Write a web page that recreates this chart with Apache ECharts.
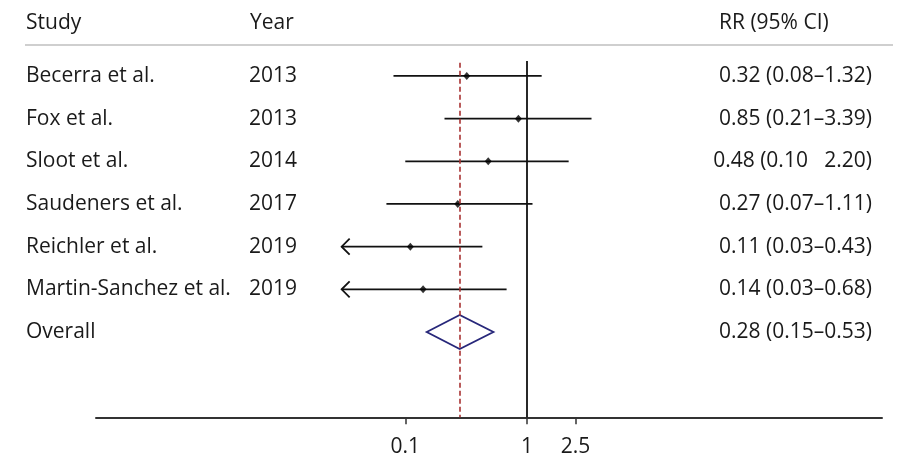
<!DOCTYPE html>
<html>
<head>
<meta charset="utf-8">
<script src="https://cdn.jsdelivr.net/npm/echarts@6/dist/echarts.min.js"></script>
<style>html,body{margin:0;padding:0;background:#fff}#c{width:900px;height:464px}</style>
</head>
<body>
<div id="c"></div>
<script>
// ---- data ----
const studies = ['Becerra et al.', 'Fox et al.', 'Sloot et al.', 'Saudeners et al.', 'Reichler et al.', 'Martin-Sanchez et al.'];
const years = ['2013', '2013', '2014', '2017', '2019', '2019'];
const rr = [0.32, 0.85, 0.48, 0.27, 0.11, 0.14];
const ciLow = [0.08, 0.21, 0.10, 0.07, 0.03, 0.03];
const ciHigh = [1.32, 3.39, 2.20, 1.11, 0.43, 0.68];
const ciLabels = ['0.32 (0.08\u20131.32)', '0.85 (0.21\u20133.39)', '0.48 (0.10   2.20)', '0.27 (0.07\u20131.11)', '0.11 (0.03\u20130.43)', '0.14 (0.03\u20130.68)'];
const overallLabel = 'Overall';
const overall = { rr: 0.28, low: 0.15, high: 0.53 };
const overallCiLabel = '0.28 (0.15\u20130.53)';
const tickValues = [0.1, 1, 2.5];
const tickLabels = ['0.1', '1', '2.5'];
const plotFloor = 0.03; // CIs reaching this floor are drawn with an arrow
const headers = { study: 'Study', year: 'Year', rr: 'RR (95% CI)' };

// ---- chart ----
const FONT = '"Open Sans", sans-serif';
const FS = 21;
const TXT = '#1a1a1a';
const nRows = studies.length;
const overallRow = nRows + 1;

const leftLabels = studies.concat([overallLabel]);
const yearLabels = years.concat(['']);
const rightLabels = ciLabels.concat([overallCiLabel]);

function rowLabel(arr) {
  return function (v) { const i = Math.round(v) - 1; return (i >= 0 && i < arr.length) ? arr[i] : ''; };
}

const baseY = {
  type: 'value', inverse: true, min: 0, max: 9, interval: 1,
  axisLine: { show: false }, axisTick: { show: false }, splitLine: { show: false }
};
const rowLabelStyle = { fontSize: FS, color: TXT, fontFamily: FONT, padding: [4, 0, 0, 0] };

const ciData = studies.map((s, i) => [ciLow[i], ciHigh[i], i + 1, ciLow[i] <= plotFloor ? 1 : 0]);
const pointData = studies.map((s, i) => [rr[i], i + 1]);

const headerStyle = function (t) { return { text: t, font: FS + 'px ' + FONT, fill: TXT, verticalAlign: 'middle' }; };

const chart = echarts.init(document.getElementById('c'), null, { renderer: 'canvas' });
chart.setOption({
  animation: false,
  backgroundColor: '#fff',
  textStyle: { fontFamily: FONT },
  grid: { left: 96, right: 18, top: 33.3, bottom: 46.7, containLabel: false },
  xAxis: {
    type: 'log', logBase: 10, min: 2.876e-4, max: 826, position: 'bottom',
    axisLine: { show: true, onZero: false, lineStyle: { color: '#333', width: 2 } },
    axisTick: { show: true, customValues: tickValues, length: 7, lineStyle: { color: '#333', width: 1.5 } },
    axisLabel: {
      customValues: tickValues, margin: 19, fontSize: FS, color: TXT, fontFamily: FONT,
      formatter: function (v) {
        let best = 0;
        tickValues.forEach((t, i) => { if (Math.abs(Math.log(t) - Math.log(v)) < Math.abs(Math.log(tickValues[best]) - Math.log(v))) best = i; });
        return tickLabels[best];
      }
    },
    splitLine: { show: false }, minorTick: { show: false }
  },
  yAxis: [
    Object.assign({}, baseY, { position: 'left', axisLabel: Object.assign({ formatter: rowLabel(leftLabels), align: 'left', margin: 70 }, rowLabelStyle) }),
    Object.assign({}, baseY, { position: 'left', axisLabel: Object.assign({ formatter: rowLabel(yearLabels), align: 'left', margin: -153 }, rowLabelStyle) }),
    Object.assign({}, baseY, { position: 'right', axisLabel: Object.assign({ formatter: rowLabel(rightLabels), align: 'right', margin: -10 }, rowLabelStyle) })
  ],
  graphic: [
    { type: 'line', shape: { x1: 25, y1: 45, x2: 893, y2: 45 }, style: { stroke: '#cfcfcf', lineWidth: 2 } },
    { type: 'text', x: 26, y: 23, style: headerStyle(headers.study) },
    { type: 'text', x: 250, y: 23, style: headerStyle(headers.year) },
    { type: 'text', x: 719, y: 23, style: headerStyle(headers.rr) }
  ],
  series: [
    {
      type: 'custom', yAxisIndex: 0, data: ciData, z: 3,
      renderItem: function (params, api) {
        const p1 = api.coord([api.value(0), api.value(2)]);
        const p2 = api.coord([api.value(1), api.value(2)]);
        const children = [{ type: 'line', shape: { x1: p1[0], y1: p1[1], x2: p2[0], y2: p2[1] }, style: { stroke: '#111', lineWidth: 1.8 } }];
        if (api.value(3)) {
          children.push({ type: 'polyline', shape: { points: [[p1[0] + 8, p1[1] - 8], [p1[0], p1[1]], [p1[0] + 8, p1[1] + 8]] }, style: { stroke: '#111', lineWidth: 1.8, fill: 'none' } });
        }
        return { type: 'group', children: children };
      }
    },
    {
      type: 'custom', yAxisIndex: 0, data: [[overall.low, overall.rr, overall.high, overallRow]], z: 3,
      renderItem: function (params, api) {
        const l = api.coord([api.value(0), api.value(3)]);
        const c = api.coord([api.value(1), api.value(3)]);
        const r = api.coord([api.value(2), api.value(3)]);
        const h = 17;
        return { type: 'polygon', shape: { points: [[l[0], l[1]], [c[0], c[1] - h], [r[0], r[1]], [c[0], c[1] + h]] }, style: { stroke: '#27277a', lineWidth: 1.8, fill: 'none' } };
      }
    },
    {
      type: 'scatter', yAxisIndex: 0, data: pointData, symbol: 'diamond', symbolSize: [7, 8], z: 4,
      itemStyle: { color: '#000' },
      markLine: {
        silent: true, symbol: 'none', label: { show: false }, animation: false,
        data: [
          [{ coord: [1, 0.65], lineStyle: { color: '#111', width: 1.8, type: 'solid' } }, { coord: [1, 9] }],
          [{ coord: [overall.rr, 0.69], lineStyle: { color: '#a83232', width: 1.6, type: [5, 3] } }, { coord: [overall.rr, 9] }]
        ]
      }
    }
  ]
});
</script>
</body>
</html>
